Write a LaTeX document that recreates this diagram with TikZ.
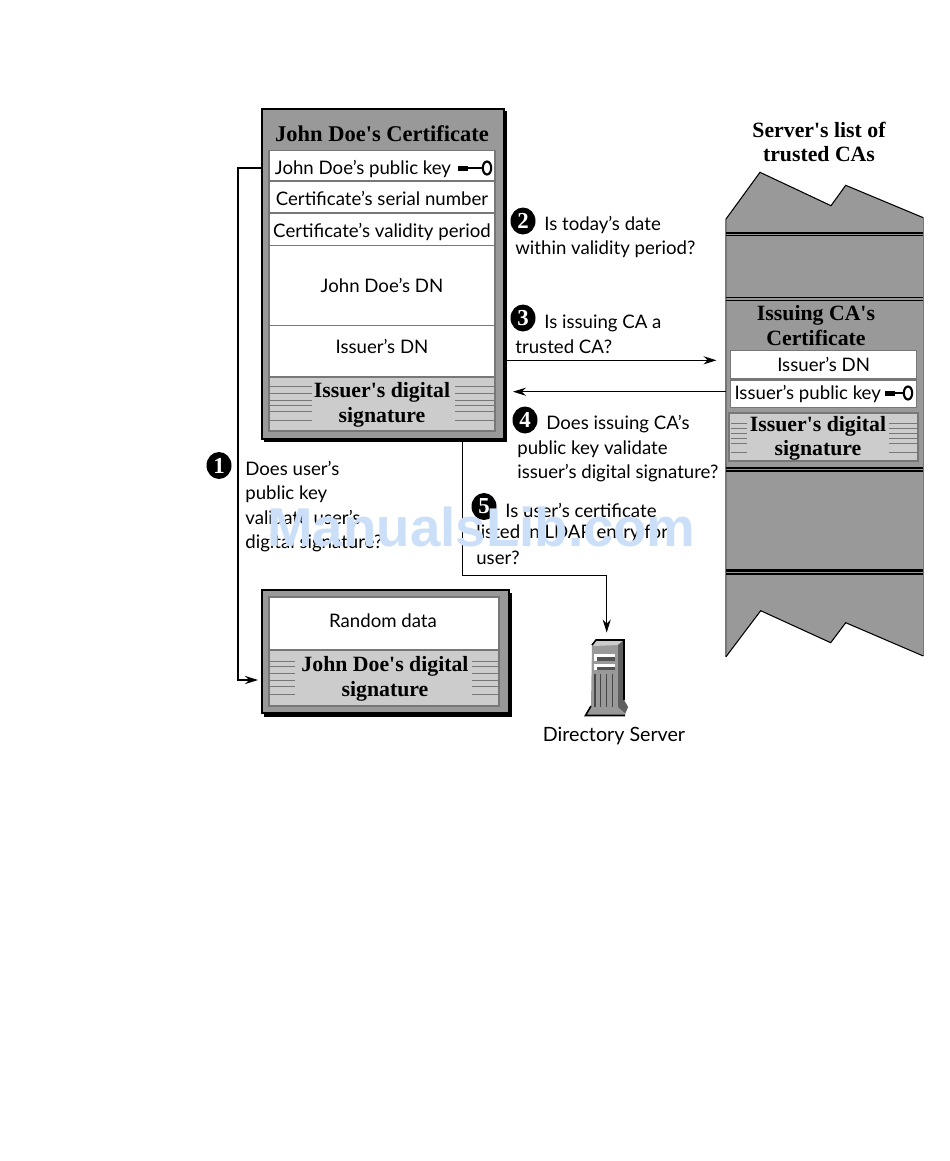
\documentclass[tikz,border=0pt]{standalone}
\usepackage{fontspec}
\setmainfont{Lato}
\newfontfamily\headfont{Liberation Serif}
\newfontfamily\markfont{Liberation Sans}
\usetikzlibrary{arrows.meta, positioning, shapes.geometric}
\definecolor{framegray}{HTML}{999999}
\definecolor{siggray}{HTML}{CCCCCC}
\definecolor{rulegray}{HTML}{777777}
\definecolor{watermark}{HTML}{CCDFF8}
\newlength\px
\setlength\px{0.02cm}
\tikzset{
  >={Stealth[length=7.4pt, width=4.6pt]},
  every picture/.style={line join=miter},
  body/.style={font=\fontsize{10.6}{13.9}\selectfont, inner sep=0pt, align=left},
  head/.style={font=\fontsize{12.4}{13.9}\headfont\bfseries, inner sep=0pt, align=center},
  frame/.style={draw=black, fill=framegray, line width=0.8pt, inner sep=0pt},
  rowbox/.style={draw=rulegray, fill=white, line width=0.7pt, inner sep=0pt, body, align=center},
  lowtext/.style={text height=10.5pt, text depth=1pt},
  sigbox/.style={draw=rulegray, fill=siggray, line width=1pt, inner sep=0pt, head},
  badge/.style={ellipse, fill=black, text=white, inner sep=0pt, minimum width=25\px, minimum height=27\px, font=\fontsize{13}{13}\headfont\bfseries},
  hatch/.style={draw=rulegray, line width=0.45pt},
  wire/.style={->, line width=0.55pt},
  heavywire/.style={->, line width=1.1pt},
  % key symbol, drawn in reference pixels
  keyicon/.pic={
    \fill[black] (0,-1.5) rectangle (#1,0.8);
    \fill[black] (0,-2) rectangle (10,2.8);
    \draw[black, line width=1.2pt] (#1+5,0) ellipse (4.2 and 6.5);
  },
}
\newcommand\sighatch[3]{\foreach \y in {#3} \draw[hatch] (#1,\y) -- (#2,\y);}
\begin{document}
\begin{tikzpicture}[x=0.02cm, y=-0.02cm]
  \path[use as bounding box, fill=white] (0,0) rectangle (950,1161);
  % ---------------- certificate
  \fill[black] (264,111) rectangle (507,441.5);
  \node[frame, minimum width=242\px, minimum height=330\px] (cert) at (383,274) {};
  \node[head, font=\fontsize{12.8}{13.9}\headfont\bfseries] (certtitle) at (382,134) {John Doe's Certificate};
  \node[rowbox, lowtext, minimum width=226\px, minimum height=30.5\px] (certkey) at (382,165.75) {John Doe's public key\hspace{38\px}};
  \node[rowbox, lowtext, minimum width=226\px, minimum height=32\px] (certserial) at (382,197) {Certificate's serial number};
  \node[rowbox, lowtext, minimum width=226\px, minimum height=32.7\px] (certperiod) at (382,229.35) {Certificate's validity period};
  \node[rowbox, minimum width=226\px, minimum height=80\px] (certdn) at (382,285.7) {John Doe's DN};
  \node[rowbox, minimum width=226\px, minimum height=51\px] (certissuer) at (382,351.2) {};
  \node[body] (certissuertext) at (382,346) {Issuer's DN};
  \node[sigbox, minimum width=226\px, minimum height=54\px] (certsig) at (382,403.7) {};
  \node[head] (certsigtext) at (382,404.7) {Issuer's digital\\signature};
  \pic at (458,168) {keyicon=24};
  \sighatch{268}{312}{386.7,393,400,405.7,411.7,420.7}
  \sighatch{455}{495}{386.7,393,400,405.7,411.7,420.7}
  % ---------------- signed random data
  \fill[black] (264,593) rectangle (511.5,716.5);
  \node[frame, minimum width=247\px, minimum height=123\px] (random) at (385.5,651.5) {};
  \node[rowbox, minimum width=230\px, minimum height=53\px] (randomdata) at (384,623.5) {};
  \node[body] (randomtext) at (383,621) {Random data};
  \node[sigbox, minimum width=230\px, minimum height=56\px] (randomsig) at (384,678) {};
  \node[head] (randomsigtext) at (385,679) {John Doe's digital\\signature};
  \sighatch{268}{295}{661.7,666.7,673.3,680.7,686.7,694}
  \sighatch{472}{499}{661.7,666.7,673.3,680.7,686.7,694}
  % ---------------- list of trusted CAs
  \node[head] (listtitle) at (819,142) {Server's list of\\trusted CAs};
  \fill[framegray] (726,219) -- (760,172.3) -- (831,205.7) -- (845.7,185.3) -- (923.3,217.7)
    -- (923.3,656) -- (845.7,622.7) -- (830.7,642.7) -- (760.7,610.7) -- (726,656.7) -- cycle;
  \draw[rulegray, line width=0.6pt] (726,219) -- (726,656.7) (923.3,217.7) -- (923.3,656);
  \draw[black, line width=0.6pt] (726,219) -- (760,172.3) -- (831,205.7) -- (845.7,185.3) -- (923.3,217.7);
  \draw[black, line width=0.6pt] (726,656.7) -- (760.7,610.7) -- (830.7,642.7) -- (845.7,622.7) -- (923.3,656);
  \foreach \y/\w in {233/0.6, 235.9/0.6, 297.7/0.6, 300.7/0.6, 468/1.2, 471/0.9, 570.7/1.7, 574.3/1.1}
    \draw[black, line width=\w pt] (726,\y) -- (923.3,\y);
  \node[head] (catitle) at (816,325.5) {Issuing CA's\\Certificate};
  \node[rowbox, minimum width=186\px, minimum height=27.6\px] (cadn) at (823.7,364.5) {Issuer's DN};
  \node[rowbox, minimum width=186\px, minimum height=27.3\px] (cakey) at (823.7,393.6) {Issuer's public key\hspace{32\px}};
  \node[sigbox, minimum width=189\px, minimum height=47.4\px] (casig) at (823.6,437) {};
  \node[head] (casigtext) at (818,438.5) {Issuer's digital\\signature};
  \pic at (885,393) {keyicon=18};
  \sighatch{731}{746.7}{423,428,433,438,443,452}
  \sighatch{889}{917}{423,428,433,438,443,452}
  % ---------------- directory server
  \fill[framegray] (586,715) -- (591,706) -- (592,645) -- (596,640) -- (624,640) -- (624,700) -- (628,707) -- (625,715) -- cycle;
  \fill[siggray] (593,646) -- (596,641) -- (623,641) -- (618,645) -- cycle;
  \fill[rulegray!80!black] (618,645) -- (624,640) -- (624,700) -- (628,707) -- (625,713) -- (618,707) -- cycle;
  \draw[black, line width=0.9pt] (592,645) -- (596,640) -- (624,640) -- (624,700);
  \draw[black, line width=0.9pt] (591,706) -- (585.5,715.5) -- (625,715.5);
  \foreach \y in {654,663.5}{
    \fill[white] (594,\y) rectangle (615,\y+6.5);
    \fill[rulegray!70!black] (597,\y+3) rectangle (615,\y+6.5);
  }
  \foreach \x in {595,600.7,606.7,612.3} \draw[rulegray!60!black, line width=0.8pt] (\x,674) -- (\x,707);
  \coordinate (servertop) at (606.7,632.5);
  \node[body, align=center, font=\fontsize{11.2}{13.9}\selectfont] (servername) at (614,735.5) {Directory Server};
  % ---------------- numbered questions
  \node[badge] (badge1) at (219,465.5) {1};
  \node[body, anchor=west] (q1) at (245,506.5) {Does user's\\public key\\validate user's\\digital signature?};
  \node[badge] (badge2) at (523,221) {2};
  \node[body, anchor=west] (q2a) at (544,224.5) {Is today's date};
  \node[body, anchor=west] (q2b) at (515,249.5) {within validity period?};
  \node[badge] (badge3) at (523,318) {3};
  \node[body, anchor=west] (q3a) at (544,323.5) {Is issuing CA a};
  \node[body, anchor=west] (q3b) at (515,346.5) {trusted CA?};
  \node[badge] (badge4) at (525,420) {4};
  \node[body, anchor=west] (q4a) at (546,424) {Does issuing CA's};
  \node[body, anchor=west] (q4b) at (517,449) {public key validate};
  \node[body, anchor=west] (q4c) at (517,473) {issuer's digital signature?};
  \node[badge] (badge5) at (484,506.5) {5};
  \node[body, anchor=west] (q5a) at (505,510) {Is user's certificate};
  \node[body, anchor=west] (q5b) at (476,533) {listed in LDAP entry for};
  \node[body, anchor=west] (q5c) at (476,558) {user?};
  % ---------------- connectors
  \coordinate (q1bus) at (237.7,168);
  \coordinate (q1end) at (258,680);
  \coordinate (q3end) at (716.5,360.3);
  \coordinate (q4start) at (726,391.7);
  \coordinate (q4end) at (513,391.7);
  \coordinate (q5start) at (462.7,440);
  \coordinate (q5bend) at (462.7,575.3);
  \draw[heavywire] (cert.west |- q1bus) -- (q1bus) -- (q1bus |- q1end) -- (q1end);
  \draw[wire] (cert.east |- q3end) -- (q3end);
  \draw[wire] (q4start) -- (q4end);
  \draw[wire] (q5start) -- (q5bend) -| (servertop);
  % ---------------- overprint
  \node[inner sep=0pt, text=watermark, font=\fontsize{31.1}{31}\markfont\bfseries] (mark) at (481.5,527) {ManualsLib.com};
\end{tikzpicture}
\end{document}
